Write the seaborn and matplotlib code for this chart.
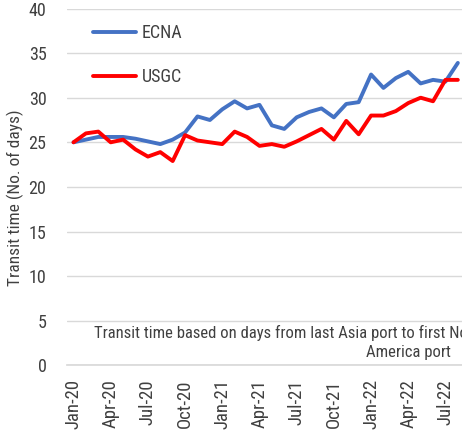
import numpy as np
import pandas as pd
import seaborn as sns
import matplotlib.pyplot as plt

# monthly transit times, Jan-20 .. Aug-22
months = ["Jan-20", "Feb-20", "Mar-20", "Apr-20", "May-20", "Jun-20", "Jul-20", "Aug-20",
          "Sep-20", "Oct-20", "Nov-20", "Dec-20", "Jan-21", "Feb-21", "Mar-21", "Apr-21",
          "May-21", "Jun-21", "Jul-21", "Aug-21", "Sep-21", "Oct-21", "Nov-21", "Dec-21",
          "Jan-22", "Feb-22", "Mar-22", "Apr-22", "May-22", "Jun-22", "Jul-22", "Aug-22"]
ecna = [25.0, 25.3, 25.6, 25.6, 25.6, 25.4, 25.1, 24.8, 25.3, 26.1, 27.9, 27.5,
        28.7, 29.6, 28.8, 29.2, 26.9, 26.5, 27.8, 28.4, 28.8, 27.8, 29.3, 29.5,
        32.6, 31.1, 32.2, 32.9, 31.6, 32.0, 31.8, 33.9]
usgc = [25.0, 26.0, 26.2, 25.0, 25.3, 24.2, 23.4, 23.9, 22.9, 25.8, 25.2, 25.0,
        24.8, 26.2, 25.6, 24.6, 24.8, 24.5, 25.1, 25.8, 26.5, 25.3, 27.4, 25.9,
        28.0, 28.0, 28.5, 29.4, 30.0, 29.6, 32.0, 32.0]
tick_every = 3

df = pd.DataFrame({"idx": np.arange(len(months)), "ECNA": ecna, "USGC": usgc})
long = df.melt(id_vars="idx", var_name="route", value_name="days")

sns.set_theme(style="white")
plt.rcParams["font.family"] = ["Roboto Condensed", "Roboto", "DejaVu Sans"]
txt = "#404040"

fig = plt.figure(figsize=(4.62, 4.34), dpi=100)
ax = fig.add_axes([0.1457, 0.1583, 0.8587, 0.8221])

sns.lineplot(data=long, x="idx", y="days", hue="route",
             palette={"ECNA": "#4472C4", "USGC": "#FF0000"},
             linewidth=2.8, ax=ax)

ax.set_xlim(-0.5, len(months) - 0.5)
ax.set_ylim(0, 40)
ax.set_yticks(range(0, 41, 5))
ax.yaxis.grid(True, color="#D9D9D9", linewidth=1)
ax.xaxis.grid(False)
for s in ["top", "right", "left"]:
    ax.spines[s].set_visible(False)
ax.spines["bottom"].set_color("#D9D9D9")

# labels centred on the category, tick marks on the category edges
pos = np.arange(0, len(months), tick_every)
ax.set_xticks(pos)
ax.set_xticklabels([months[i] for i in pos], rotation=90, fontsize=13.5, color=txt)
ax.set_xticks(pos - 0.5, minor=True)
ax.tick_params(axis="x", which="major", length=0, pad=10)
ax.tick_params(axis="x", which="minor", length=5, width=1, color="#D9D9D9", direction="out")
ax.tick_params(axis="y", length=0, pad=15, labelsize=13, labelcolor=txt)

ax.set_xlabel("")
ax.set_ylabel("Transit time (No. of days)", fontsize=12.5, color=txt)
ax.yaxis.set_label_coords(-0.108, 0.47)

ax.legend(loc="center left", bbox_to_anchor=(0.065, 0.869), frameon=False,
          fontsize=13, handlelength=2.4, handletextpad=0.3, labelspacing=1.45,
          borderpad=0, borderaxespad=0, labelcolor=txt)

fig.text(94.3 / 462, 1 - 333 / 434, "Transit time based on days from last Asia port to first North",
         fontsize=12, color=txt, va="center", ha="left")
fig.text(366 / 462, 1 - 353 / 434, "America port",
         fontsize=12, color=txt, va="center", ha="left")

fig.savefig("out.png", dpi=100)
